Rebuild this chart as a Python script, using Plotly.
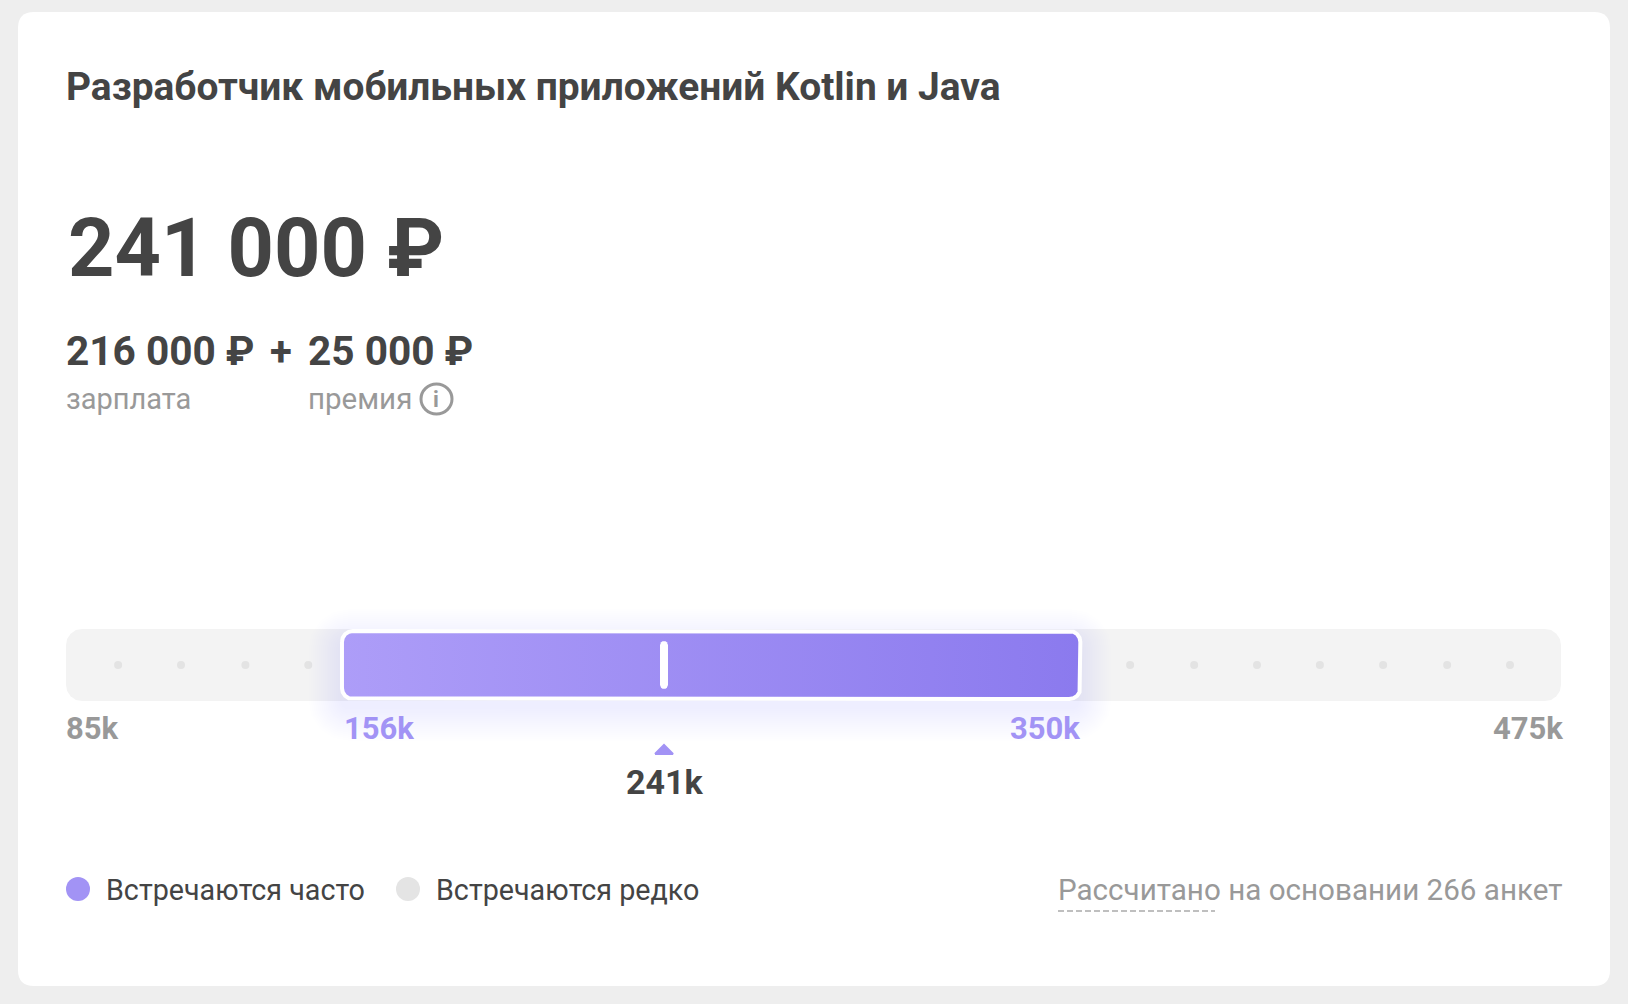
import plotly.graph_objects as go

# Данные карточки (тыс. рублей)
title = "Разработчик мобильных приложений Kotlin и Java"
total_label = "241 000 ₽"
salary_label = "216 000 ₽"
bonus_label = "25 000 ₽"
scale_min = 85
scale_max = 475
range_low = 156
range_high = 350
median = 241
dots_low = [98.6, 115, 131.8, 148.2]
dots_high = [362.6, 379.3, 395.7, 412.1, 428.6, 445.3, 461.7]

W, H = 1628, 1004
FONT = "Roboto"
DARK = "#444444"
GREY = "#999999"
PURPLE = "#a293f5"

# пиксели -> тысячи рублей: шкала 85k..475k лежит на 66..1561 px
KPP = (scale_max - scale_min) / (1561 - 66)


def to_px(v):
    return 66 + (v - scale_min) / KPP


def round_rect(x0, x1, y0, y1, r):
    # прямоугольник со скруглёнными углами в пикселях, через Q
    return (f"M{x0+r},{y0} L{x1-r},{y0} Q{x1},{y0} {x1},{y0+r} L{x1},{y1-r} Q{x1},{y1} {x1-r},{y1} "
            f"L{x0+r},{y1} Q{x0},{y1} {x0},{y1-r} L{x0},{y0+r} Q{x0},{y0} {x0+r},{y0} Z")


def corners(v0, v1, y0, y1, r):
    # тот же контур как точки: x в тысячах, y в пикселях
    k = [(0, 1), (0.07, 0.62), (0.29, 0.29), (0.62, 0.07), (1, 0)]
    d = r * KPP
    top_x = [v0 + d * a for a, b in k] + [v1 - d * a for a, b in reversed(k)]
    top_y = [y0 + r * b for a, b in k] + [y0 + r * b for a, b in reversed(k)]
    bot_x = [v1 - d * a for a, b in k] + [v0 + d * a for a, b in reversed(k)]
    bot_y = [y1 - r * b for a, b in k] + [y1 - r * b for a, b in reversed(k)]
    return top_x + bot_x + top_x[:1], top_y + bot_y + top_y[:1]


fig = go.Figure()

# дорожка шкалы
tx, ty = corners(scale_min, scale_max, 629, 701, 16)
fig.add_trace(go.Scatter(x=tx, y=ty, mode="lines", fill="toself", fillcolor="#f3f3f3", line=dict(width=0), hoverinfo="skip"))

# точки "встречаются редко"
fig.add_trace(go.Scatter(x=dots_low + dots_high, y=[665] * (len(dots_low) + len(dots_high)), mode="markers",
                         marker=dict(size=8, color="#e3e3e3"), hoverinfo="skip"))

# мягкая тень вокруг диапазона
for i in range(20):
    grow = 36 - i * 2
    gx, gy = corners(range_low - grow * KPP, range_high + grow * KPP, 629 + 10 - grow, 701 + 10 + grow, grow + 10)
    fig.add_trace(go.Scatter(x=gx, y=gy, mode="lines", fill="toself", fillcolor=f"rgba(125,115,235,{0.001 + i * 0.0004:.4f})",
                             line=dict(width=0), hoverinfo="skip"))

# сам диапазон с градиентом и белой рамкой
bx, by = corners(range_low + 3.8 * KPP, range_high - 1.5 * KPP, 631, 699, 11)
fig.add_trace(go.Scatter(x=bx, y=by, mode="lines", fill="toself", line=dict(color="white", width=4),
                         fillgradient=dict(type="horizontal", colorscale=[[0, "#ad9df8"], [1, "#8b7aee"]]),
                         hoverinfo="skip"))

# белая риска медианы
mx, my = corners(median - 4 * KPP, median + 4 * KPP, 641, 689, 4)
fig.add_trace(go.Scatter(x=mx, y=my, mode="lines", fill="toself", fillcolor="white", line=dict(width=0), hoverinfo="skip"))

# треугольник под медианой
fig.add_trace(go.Scatter(x=[median - 9 * KPP, median, median + 9 * KPP, median - 9 * KPP], y=[754, 745, 754, 754],
                         mode="lines", fill="toself", fillcolor=PURPLE, line=dict(color=PURPLE, width=2), hoverinfo="skip"))

# легенда: кружки
fig.add_trace(go.Scatter(x=[(78 - 66) * KPP + scale_min, (408 - 66) * KPP + scale_min], y=[889, 889], mode="markers",
                         marker=dict(size=24, color=[PURPLE, "#e4e4e4"]), hoverinfo="skip"))


def text(s, x, y, size, color=DARK, bold=False, anchor="left"):
    fig.add_annotation(text=s, x=x / W, xref="paper", y=y, yref="y", xanchor=anchor, yanchor="middle", showarrow=False,
                       font=dict(family=FONT, size=size, color=color, weight=700 if bold else 400))


text(title, 64, 86, 38.9, bold=True)
text(total_label, 66, 248, 81, bold=True)
text(salary_label, 64, 351, 40.6, bold=True)
text("+", 281, 351, 40, bold=True, anchor="center")
text(bonus_label, 306, 351, 40.6, bold=True)
text("зарплата", 64, 399, 29, GREY)
text("премия", 306, 399, 29.5, GREY)
text("i", 436, 399, 22, GREY, bold=True, anchor="center")

# подписи шкалы
text(f"{scale_min}k", to_px(scale_min) - 2, 728, 31, GREY, bold=True)
text(f"{range_low}k", to_px(range_low) + 4, 728, 31, PURPLE, bold=True)
text(f"{range_high}k", to_px(range_high), 728, 31, PURPLE, bold=True, anchor="right")
text(f"{scale_max}k", to_px(scale_max) + 4, 728, 31, GREY, bold=True, anchor="right")
text(f"{median}k", to_px(median) + 1, 782, 34, bold=True, anchor="center")

text("Встречаются часто", 104, 890, 28.7)
text("Встречаются редко", 434, 890, 28.7)
text("Рассчитано на основании 266 анкет", 1564, 890, 29.6, GREY, anchor="right")

# фон карточки и мелкие детали
shapes = [
    dict(type="path", path=round_rect(18, 1610, 12, 986, 16), xref="x2", yref="y", fillcolor="white", line=dict(width=0), layer="below"),
    dict(type="circle", x0=421, x1=452, y0=384, y1=414, xref="x2", yref="y", line=dict(color=GREY, width=3)),
    dict(type="line", x0=1058, x1=1215, y0=911, y1=911, xref="x2", yref="y", line=dict(color="#aaaaaa", width=1.5, dash="6px,3px")),
]

fig.update_layout(
    width=W,
    height=H,
    margin=dict(l=0, r=0, t=0, b=0),
    paper_bgcolor="#eeeeee",
    plot_bgcolor="rgba(0,0,0,0)",
    showlegend=False,
    shapes=shapes,
    xaxis=dict(visible=False, range=[scale_min - 66 * KPP, scale_min + (W - 66) * KPP], fixedrange=True),
    xaxis2=dict(visible=False, range=[0, W], overlaying="x", fixedrange=True),
    yaxis=dict(visible=False, range=[H, 0], fixedrange=True),
)

fig.write_html("out.html", config=dict(displayModeBar=False),
               post_script="document.body.style.margin='0';document.body.style.overflow='hidden';")
